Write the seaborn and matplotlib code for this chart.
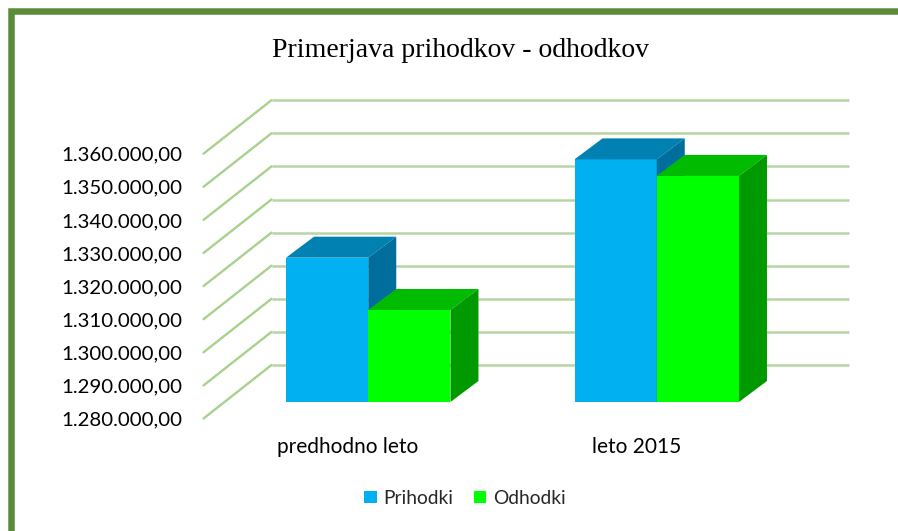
import matplotlib
matplotlib.use("Agg")
import matplotlib.pyplot as plt
import matplotlib.colors as mcolors
from matplotlib.patches import Polygon, Rectangle
from matplotlib.lines import Line2D
import numpy as np
import pandas as pd
import seaborn as sns

# ---------------- data ----------------
categories = ["predhodno leto", "leto 2015"]
series = ["Prihodki", "Odhodki"]
prihodki = [1323600, 1353300]
odhodki = [1307800, 1348300]
ytick_values = [1280000, 1290000, 1300000, 1310000, 1320000,
                1330000, 1340000, 1350000, 1360000]
ytick_labels = ["1.280.000,00", "1.290.000,00", "1.300.000,00", "1.310.000,00",
                "1.320.000,00", "1.330.000,00", "1.340.000,00", "1.350.000,00",
                "1.360.000,00"]
title = "Primerjava prihodkov - odhodkov"

front_colors = ["#00B0F0", "#00FF00"]
top_colors = ["#0081B2", "#00BB00"]
side_colors = ["#006E9C", "#009A00"]
grid_color = "#B7D5A2"
diag_color = "#A9D18E"
border_color = "#5B8A3A"

sns.set_style("white")
plt.rcParams["font.family"] = ["Lato", "DejaVu Sans"]

W, H = 898, 531
fig = plt.figure(figsize=(W / 100, H / 100), dpi=100)
fig.patch.set_facecolor("white")

# geometry of the oblique "3D" projection (pixels)
AX_L, AX_BOT, AX_W, AX_H = 224, 402, 577, 264.8
BACK = (47.5, 37)      # bar plane -> back wall
FRONT = (-20.5, -16.5)  # bar plane -> front edge
BAR_DEPTH = (28, 21)

XLIM = (-0.5, 1.5)
YLIM = (ytick_values[0], ytick_values[-1])


def box(dx, dy):
    return [(AX_L + dx) / W, (H - AX_BOT + dy) / H, AX_W / W, AX_H / H]


ax_back = fig.add_axes(box(*BACK))
ax_front = fig.add_axes(box(*FRONT))
ax = fig.add_axes(box(0, 0))
for a in (ax_back, ax_front, ax):
    a.set_zorder(0)
ax.set_zorder(1)

for a in (ax_back, ax_front):
    a.set_xlim(*XLIM)
    a.set_ylim(*YLIM)
    for s in a.spines.values():
        s.set_visible(False)
    a.patch.set_visible(False)
    a.grid(False)

# back wall gridlines
ax_back.hlines(ytick_values, XLIM[0], XLIM[1], color=grid_color, lw=1.8, clip_on=False)
ax_back.set_xticks([])
ax_back.set_yticks([])

# tick labels on the front edge
ax_front.set_yticks(ytick_values, ytick_labels)
ax_front.set_xticks([0, 1], categories)
ax_front.tick_params(axis="both", length=0, labelcolor="#000000")
ax_front.tick_params(axis="y", pad=15.5, labelsize=14.7)
ax_front.tick_params(axis="x", pad=13.5, labelsize=15)

# side wall diagonals
inv_fig = fig.transFigure.inverted()
for v in ytick_values:
    p1 = inv_fig.transform(ax_front.transData.transform((XLIM[0], v)))
    p2 = inv_fig.transform(ax_back.transData.transform((XLIM[0], v)))
    fig.add_artist(Line2D([p1[0], p2[0]], [p1[1], p2[1]], color=diag_color, lw=1.7,
                          transform=fig.transFigure))

# bars
df = pd.DataFrame({
    "cat": categories * 2,
    "series": [series[0]] * len(categories) + [series[1]] * len(categories),
    "value": prihodki + odhodki,
})
sns.barplot(data=df, x="cat", y="value", hue="series", palette=front_colors,
            width=0.57, saturation=1, linewidth=0, errorbar=None, ax=ax, legend=True)
ax.set_xlim(*XLIM)
ax.set_ylim(*YLIM)
ax.set_xticks([])
ax.set_yticks([])
ax.set_xlabel("")
ax.set_ylabel("")
for s in ax.spines.values():
    s.set_visible(False)
ax.patch.set_visible(False)
ax.grid(False)

base = YLIM[0]


def shift(x, y):
    px, py = ax.transData.transform((x, y))
    return tuple(ax.transData.inverted().transform((px + BAR_DEPTH[0], py + BAR_DEPTH[1])))


bars = [p for p in ax.patches if isinstance(p, Rectangle) and p.get_height() > 0]
bars.sort(key=lambda p: p.get_x())
front_hex = [c.lower() for c in front_colors]
for k, p in enumerate(bars):
    idx = front_hex.index(mcolors.to_hex(p.get_facecolor()).lower())
    x0 = p.get_x()
    x1 = x0 + p.get_width()
    top = p.get_y() + p.get_height()
    z = 3 + k
    p.set_zorder(z)
    ax.add_patch(Polygon([(x0, top), (x1, top), shift(x1, top), shift(x0, top)],
                         closed=True, facecolor=top_colors[idx], edgecolor="none",
                         zorder=z + 0.1, clip_on=False))
    ax.add_patch(Polygon([(x1, base), (x1, top), shift(x1, top), shift(x1, base)],
                         closed=True, facecolor=side_colors[idx], edgecolor="none",
                         zorder=z + 0.2, clip_on=False))

sns.move_legend(ax, "center", bbox_to_anchor=(465 / W, 1 - 498 / H),
                bbox_transform=fig.transFigure, ncol=2, frameon=False, title=None,
                fontsize=13.8, handlelength=0.65, handleheight=0.6,
                handletextpad=0.35, columnspacing=1.05)

# title
fig.text(460 / W, 1 - 57 / H, title, ha="center", va="baseline", fontsize=20,
         family=["Liberation Serif", "DejaVu Serif"], color="#000000")

# green frame (top-left part visible)
fig.add_artist(Rectangle((11 / W, -0.2), 2.0, (H - 10.5) / H + 0.2,
                         transform=fig.transFigure, fill=False,
                         edgecolor=border_color, linewidth=6.5 * 0.72))

fig.savefig("out.png", dpi=100, facecolor="white")
